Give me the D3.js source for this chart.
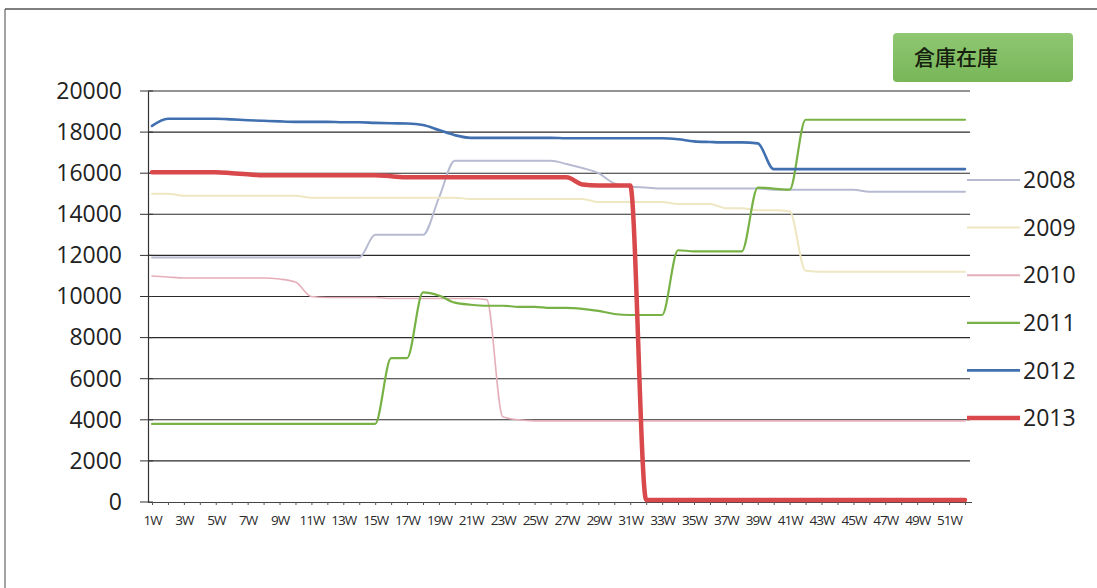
<!DOCTYPE html>
<html>
<head>
<meta charset="utf-8">
<script src="https://cdn.jsdelivr.net/npm/d3@7"></script>
<style>
  html, body { margin: 0; padding: 0; background: #fff; }
  svg { display: block; }
</style>
</head>
<body>
<svg id="chart" width="1097" height="588"></svg>
<script>
// Weekly warehouse stock, 1W..52W, one array per year
const weeks = d3.range(1, 53).map(w => w + "W");
const yTicks = [0, 2000, 4000, 6000, 8000, 10000, 12000, 14000, 16000, 18000, 20000];
const years = ["2008", "2009", "2010", "2011", "2012", "2013"];

const stock2008 = [11900, 11900, 11900, 11900, 11900, 11900, 11900, 11900, 11900, 11900,
  11900, 11900, 11900, 11900, 13000, 13000, 13000, 13000, 14800, 16600,
  16600, 16600, 16600, 16600, 16600, 16600, 16450, 16250, 16000, 15500,
  15350, 15300, 15250, 15250, 15250, 15250, 15250, 15250, 15250, 15200,
  15200, 15200, 15200, 15200, 15200, 15100, 15100, 15100, 15100, 15100,
  15100, 15100];
const stock2009 = [15000, 15000, 14900, 14900, 14900, 14900, 14900, 14900, 14900, 14900,
  14800, 14800, 14800, 14800, 14800, 14800, 14800, 14800, 14800, 14800,
  14750, 14750, 14750, 14750, 14750, 14750, 14750, 14750, 14600, 14600,
  14600, 14600, 14600, 14500, 14500, 14500, 14300, 14300, 14200, 14200,
  14150, 11250, 11200, 11200, 11200, 11200, 11200, 11200, 11200, 11200,
  11200, 11200];
const stock2010 = [11000, 10950, 10900, 10900, 10900, 10900, 10900, 10900, 10850, 10700,
  10000, 9950, 9950, 9950, 9950, 9900, 9900, 9900, 9900, 9900,
  9900, 9850, 4150, 4000, 3950, 3950, 3950, 3950, 3950, 3950,
  3950, 3950, 3950, 3950, 3950, 3950, 3950, 3950, 3950, 3950,
  3950, 3950, 3950, 3950, 3950, 3950, 3950, 3950, 3950, 3950,
  3950, 3950];
const stock2011 = [3800, 3800, 3800, 3800, 3800, 3800, 3800, 3800, 3800, 3800,
  3800, 3800, 3800, 3800, 3800, 7000, 7000, 10200, 10050, 9700,
  9600, 9550, 9550, 9500, 9500, 9450, 9450, 9400, 9300, 9150,
  9100, 9100, 9100, 12250, 12200, 12200, 12200, 12200, 15300, 15250,
  15200, 18600, 18600, 18600, 18600, 18600, 18600, 18600, 18600, 18600,
  18600, 18600];
const stock2012 = [18300, 18650, 18650, 18650, 18650, 18620, 18580, 18550, 18520, 18500,
  18500, 18500, 18480, 18480, 18450, 18430, 18420, 18350, 18100, 17850,
  17720, 17720, 17720, 17720, 17720, 17720, 17700, 17700, 17700, 17700,
  17700, 17700, 17700, 17650, 17550, 17520, 17500, 17500, 17450, 16200,
  16200, 16200, 16200, 16200, 16200, 16200, 16200, 16200, 16200, 16200,
  16200, 16200];
const stock2013 = [16050, 16050, 16050, 16050, 16050, 16000, 15950, 15900, 15900, 15900,
  15900, 15900, 15900, 15900, 15900, 15850, 15800, 15800, 15800, 15800,
  15800, 15800, 15800, 15800, 15800, 15800, 15800, 15450, 15400, 15400,
  15400, 100, 100, 100, 100, 100, 100, 100, 100, 100,
  100, 100, 100, 100, 100, 100, 100, 100, 100, 100,
  100, 100];

const seriesValues = [stock2008, stock2009, stock2010, stock2011, stock2012, stock2013];
const seriesColors = ["#b7bbd2", "#efe6c2", "#e5afb9", "#78b246", "#4070b0", "#d9484a"];
const seriesWidths = [2, 2, 1.6, 2.2, 2.6, 4.5];

const svg = d3.select("#chart");

// outer frame (top and left edges)
svg.append("line").attr("x1", 5).attr("y1", 9).attr("x2", 1097).attr("y2", 9)
  .attr("stroke", "#555").attr("stroke-width", 1.5);
svg.append("line").attr("x1", 5).attr("y1", 9).attr("x2", 5).attr("y2", 588)
  .attr("stroke", "#666").attr("stroke-width", 1.2);

const x = d3.scalePoint().domain(weeks).range([152, 965]);
const y = d3.scaleLinear().domain([0, 20000]).range([502, 91]);

// horizontal gridlines
svg.append("g")
  .selectAll("line")
  .data(yTicks.filter(t => t > 0))
  .join("line")
  .attr("x1", 148).attr("x2", 970)
  .attr("y1", d => y(d)).attr("y2", d => y(d))
  .attr("stroke", "#2a2a2a").attr("stroke-width", 1.1);

// y axis
const yAxis = svg.append("g")
  .attr("transform", "translate(148,0)")
  .call(d3.axisLeft(y).tickValues(yTicks).tickFormat(d3.format("d")).tickSize(0).tickPadding(26));
yAxis.select(".domain").attr("stroke", "#333").attr("stroke-width", 1.2);
yAxis.selectAll("text")
  .attr("font-family", "'Open Sans', 'Noto Sans', sans-serif")
  .attr("font-size", 23).attr("fill", "#222");
// cross tick marks on the value axis
svg.append("g").selectAll("line").data(yTicks).join("line")
  .attr("x1", 140).attr("x2", 153)
  .attr("y1", d => y(d)).attr("y2", d => y(d))
  .attr("stroke", "#333").attr("stroke-width", 1);

// x axis
const xAxis = svg.append("g")
  .attr("transform", "translate(0,502)")
  .call(d3.axisBottom(x).tickSize(3).tickPadding(10)
    .tickFormat((d, i) => (i % 2 === 0 ? d : "")));
xAxis.select(".domain").attr("d", "M148,0.5H972").attr("stroke", "#444").attr("stroke-width", 1.2);
xAxis.selectAll(".tick line").attr("stroke", "#555");
xAxis.selectAll("text")
  .attr("font-family", "'Open Sans', sans-serif")
  .attr("font-size", 13.5).attr("fill", "#2a2a2a").attr("letter-spacing", -1);

// series lines
const line = d3.line()
  .x((d, i) => x(weeks[i]))
  .y(d => y(d))
  .curve(d3.curveMonotoneX);

svg.append("g")
  .selectAll("path")
  .data(seriesValues)
  .join("path")
  .attr("d", d => line(d))
  .attr("fill", "none")
  .attr("stroke", (d, i) => seriesColors[i])
  .attr("stroke-width", (d, i) => seriesWidths[i])
  .attr("stroke-linejoin", "round")
  .attr("stroke-linecap", "round");

// legend
const legend = svg.append("g").selectAll("g").data(years).join("g")
  .attr("transform", (d, i) => `translate(0,${180 + i * 47.6})`);
legend.append("line")
  .attr("x1", 967).attr("x2", 1020).attr("y1", 0).attr("y2", 0)
  .attr("stroke", (d, i) => seriesColors[i])
  .attr("stroke-width", (d, i) => Math.max(2, seriesWidths[i]));
legend.append("text")
  .attr("x", 1023).attr("y", 0).attr("dy", "0.36em")
  .attr("font-family", "'Open Sans', 'Noto Sans', sans-serif")
  .attr("font-size", 23).attr("fill", "#222")
  .text(d => d);

// title badge
const defs = svg.append("defs");
const grad = defs.append("linearGradient").attr("id", "badgeFill")
  .attr("x1", 0).attr("y1", 0).attr("x2", 0).attr("y2", 1);
grad.append("stop").attr("offset", "0%").attr("stop-color", "#8fc772");
grad.append("stop").attr("offset", "100%").attr("stop-color", "#78b658");
svg.append("rect")
  .attr("x", 893).attr("y", 33).attr("width", 180).attr("height", 49)
  .attr("rx", 4).attr("fill", "url(#badgeFill)");
svg.append("text")
  .attr("x", 914).attr("y", 58).attr("dy", "0.35em")
  .attr("font-family", "'Noto Sans CJK JP', sans-serif")
  .attr("font-size", 21).attr("font-weight", 500).attr("fill", "#15200f")
  .text("倉庫在庫");
</script>
</body>
</html>
